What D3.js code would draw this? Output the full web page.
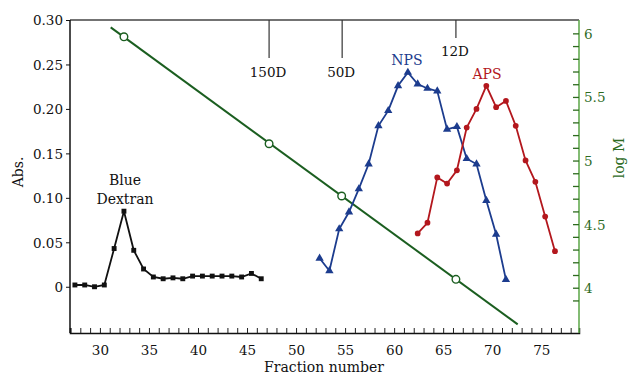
<!DOCTYPE html>
<html><head><meta charset="utf-8">
<script src="https://cdn.jsdelivr.net/npm/d3@7/dist/d3.min.js"></script>
<style>
html,body{margin:0;padding:0;background:#fff;}
svg{display:block;font-family:"DejaVu Serif",serif;}
</style></head>
<body><svg id="c" width="628" height="375"></svg>
<script>
// ---- data ----
const dextranFrac = [27.45,28.45,29.45,30.45,31.45,32.45,33.45,34.45,35.45,36.45,37.45,38.45,39.45,40.45,41.45,42.45,43.45,44.45,45.45,46.45];
const dextranAbs  = [0.002,0.002,0.000,0.002,0.043,0.085,0.041,0.020,0.011,0.009,0.010,0.009,0.012,0.012,0.012,0.012,0.012,0.011,0.015,0.009];
const npsFrac = [52.4,53.4,54.4,55.4,56.4,57.4,58.4,59.4,60.4,61.4,62.4,63.4,64.4,65.4,66.4,67.4,68.4,69.4,70.4,71.4];
const npsAbs  = [0.032,0.018,0.065,0.084,0.110,0.138,0.181,0.198,0.226,0.241,0.228,0.223,0.220,0.177,0.180,0.144,0.138,0.097,0.059,0.008];
const apsFrac = [62.4,63.4,64.4,65.4,66.4,67.4,68.4,69.4,70.4,71.4,72.4,73.4,74.4,75.4,76.4];
const apsAbs  = [0.060,0.072,0.123,0.116,0.131,0.179,0.200,0.226,0.202,0.209,0.181,0.142,0.118,0.079,0.040];
const stdFrac = [32.45,47.25,54.65,66.3];
const stdLogM = [5.973,5.132,4.721,4.066];
const fitFrac = [31.1,72.6];
const fitLogM = [6.047,3.712];
const markerLabels = ["150D","50D","12D"];
const markerFrac = [47.25,54.7,66.3];
const xTicks = [30,35,40,45,50,55,60,65,70,75];
const yTicks = [0,0.05,0.10,0.15,0.20,0.25,0.30];
const yTickLabels = ["0","0.05","0.10","0.15","0.20","0.25","0.30"];
const rTicks = [4,4.5,5,5.5,6];
const rTickLabels = ["4","4.5","5","5.5","6"];

// ---- layout ----
const L=70, R=579, T=20, B=333;
const svg = d3.select("#c");
const x = d3.scaleLinear().domain([26.95,78.85]).range([L,R]);
const y = d3.scaleLinear().domain([-0.052,0.30]).range([B,T]);
const yr = d3.scaleLinear().domain([3.644,6.105]).range([B,T]);

const black="#111", blue="#1c3c8e", red="#b3171d", dgreen="#1b5e20", lgreen="#5aa646", tgreen="#2e6b1f";

// frame top
svg.append("line").attr("x1",L).attr("x2",R).attr("y1",T).attr("y2",T).attr("stroke","#444").attr("stroke-width",1.5);

// bottom axis
const xAxis = d3.axisBottom(x).tickValues(d3.range(27,79)).tickSize(-5).tickFormat("");
const gx = svg.append("g").attr("transform",`translate(0,${B})`).call(xAxis);
gx.select(".domain").attr("stroke",black).attr("stroke-width",1.5);
gx.selectAll(".tick line").attr("stroke","#222").attr("stroke-width",1);
const gxl = svg.append("g").attr("transform",`translate(0,${B})`)
  .call(d3.axisBottom(x).tickValues(xTicks).tickSize(0).tickPadding(12));
gxl.select(".domain").remove();
gxl.selectAll("text").attr("font-family","DejaVu Serif").attr("font-size",13.5).attr("fill","#111");

// left axis
const gy = svg.append("g").attr("transform",`translate(${L},0)`)
  .call(d3.axisLeft(y).tickValues(yTicks).tickSize(4).tickPadding(3).tickFormat((d,i)=>yTickLabels[i]));
gy.select(".domain").attr("stroke",black).attr("stroke-width",1.5).attr("d",`M0,${B}V${T}`);
gy.selectAll(".tick line").attr("stroke",black);
gy.selectAll("text").attr("font-family","DejaVu Serif").attr("font-size",13.5).attr("fill","#111").attr("dy","0.36em");

// right axis
const gr = svg.append("g").attr("transform",`translate(${R},0)`)
  .call(d3.axisRight(yr).tickValues(d3.range(39,61).map(d=>d/10)).tickSize(-6).tickFormat(""));
gr.select(".domain").attr("stroke",lgreen).attr("stroke-width",1.5).attr("d",`M0,${B}V${T}`);
gr.selectAll(".tick line").attr("stroke",tgreen).attr("stroke-width",1.3);
const grl = svg.append("g").attr("transform",`translate(${R},0)`)
  .call(d3.axisRight(yr).tickValues(rTicks).tickSize(0).tickPadding(5).tickFormat((d,i)=>rTickLabels[i]));
grl.select(".domain").remove();
grl.selectAll("text").attr("font-family","DejaVu Serif").attr("font-size",13.5).attr("fill",tgreen).attr("dy","0.36em");

// axis titles
svg.append("text").attr("x",324).attr("y",372).attr("text-anchor","middle").attr("font-size",14).attr("fill","#111").text("Fraction number");
svg.append("text").attr("transform","translate(23,172) rotate(-90)").attr("text-anchor","middle").attr("font-size",14).attr("fill","#111").text("Abs.");
svg.append("text").attr("transform","translate(624,158) rotate(-90)").attr("text-anchor","middle").attr("font-size",14).attr("fill",tgreen).text("log M");

// marker lines
const mEnd = [58,58,38];
const mBase = [77,77,56];
markerFrac.forEach((f,i)=>{
  svg.append("line").attr("x1",x(f)).attr("x2",x(f)).attr("y1",T).attr("y2",mEnd[i]).attr("stroke","#333").attr("stroke-width",1.2);
  svg.append("text").attr("x",x(f)-1).attr("y",mBase[i]).attr("text-anchor","middle").attr("font-size",13.5).attr("fill","#111").text(markerLabels[i]);
});

// fit line
const lineR = d3.line().x(d=>x(d[0])).y(d=>yr(d[1]));
svg.append("path").datum(fitFrac.map((f,i)=>[f,fitLogM[i]])).attr("d",lineR).attr("fill","none").attr("stroke",dgreen).attr("stroke-width",2);
svg.selectAll(".std").data(stdFrac.map((f,i)=>[f,stdLogM[i]])).enter().append("circle")
  .attr("cx",d=>x(d[0])).attr("cy",d=>yr(d[1])).attr("r",3.8).attr("fill","#fff").attr("stroke",dgreen).attr("stroke-width",1.4);

// data series
const lineL = d3.line().x(d=>x(d[0])).y(d=>y(d[1]));
function series(fr, vals, color, shape){
  const pts = fr.map((f,i)=>[f,vals[i]]);
  svg.append("path").datum(pts).attr("d",lineL).attr("fill","none").attr("stroke",color).attr("stroke-width",1.8);
  const sym = d3.symbol().type(shape).size(shape===d3.symbolTriangle?30:(shape===d3.symbolSquare?24:26));
  svg.append("g").selectAll("path").data(pts).enter().append("path")
    .attr("d",sym).attr("transform",d=>`translate(${x(d[0])},${y(d[1])})`).attr("fill",color);
}
series(dextranFrac, dextranAbs, black, d3.symbolSquare);
series(npsFrac, npsAbs, blue, d3.symbolTriangle);
series(apsFrac, apsAbs, red, d3.symbolCircle);

// series labels
svg.append("text").attr("x",125).attr("y",185).attr("text-anchor","middle").attr("font-size",14).attr("fill","#111").text("Blue");
svg.append("text").attr("x",125).attr("y",204).attr("text-anchor","middle").attr("font-size",14).attr("fill","#111").text("Dextran");
svg.append("text").attr("x",407).attr("y",65).attr("text-anchor","middle").attr("font-size",14).attr("fill",blue).text("NPS");
svg.append("text").attr("x",487).attr("y",79).attr("text-anchor","middle").attr("font-size",14).attr("fill",red).text("APS");
</script></body></html>
